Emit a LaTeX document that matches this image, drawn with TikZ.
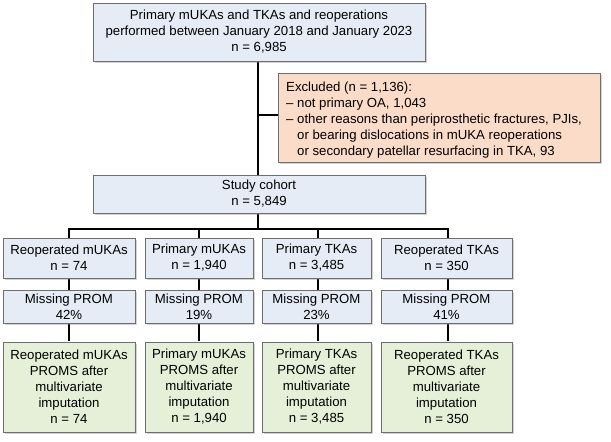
\documentclass[tikz,border=0pt]{standalone}
\usepackage{fontspec}
\setmainfont{Liberation Sans}
\usetikzlibrary{shadows}
\definecolor{bx}{HTML}{E6ECF6}
\definecolor{gx}{HTML}{E6F0D8}
\definecolor{px}{HTML}{FBDCC8}
\definecolor{bd}{HTML}{6E6E6E}
\tikzset{x=1pt,y=-1pt,
 bxs/.style={draw=bd,line width=0.8pt,drop shadow={shadow xshift=1.5pt,shadow yshift=-1.5pt,opacity=0.35}},
 lnk/.style={line width=1.8pt,black},
 txt/.style={align=center,font=\fontsize{13.2}{16}\selectfont,inner sep=0pt}}
\begin{document}
\begin{tikzpicture}
\useasboundingbox (0,0) rectangle (611,442);
\newcommand\bxx[6]{\draw[bxs,fill=#6] (#1,#2) rectangle (#3,#4); \coordinate (#5) at ({(#1+#3)/2},{(#2+#4)/2});}
\coordinate (j1) at (258,115);
\coordinate (b0) at (258,229);
\coordinate (b1) at (69,229); \coordinate (b4) at (448,229);
\draw[lnk] (258,61) -- (b0);
\draw[lnk] (j1) -- (278,115);
\draw[lnk,line cap=rect] (b1) -- (b4);
\foreach \x in {69,199,318,448}{\draw[lnk] (\x,229) -- (\x,341);}
\bxx{93}{3}{425}{61}{top}{bx}
\node[txt] at (top) {Primary mUKAs and TKAs and reoperations\\performed between January 2018 and January 2023\\n = 6,985};
\bxx{278}{73}{600}{162}{exc}{px}
\node[txt,align=left,anchor=north west] at (286,82) {Excluded (n = 1,136):\\– not primary OA, 1,043\\– other reasons than periprosthetic fractures, PJIs,\\\phantom{– }or bearing dislocations in mUKA reoperations\\\phantom{– }or secondary patellar resurfacing in TKA, 93};
\bxx{93}{175}{425}{213}{coh}{bx}
\node[txt] at (coh) {Study cohort\\n = 5,849};
\foreach \l/\r/\t/\n/\m/\i in {3/135/{Reoperated mUKAs}/{74}/42/a,145/253/{Primary mUKAs}/{1,940}/19/b,262/371/{Primary TKAs}/{3,485}/23/c,381/512/{Reoperated TKAs}/{350}/41/d}{
 \bxx{\l}{238}{\r}{278}{r1\i}{bx}
 \node[txt] at (r1\i) {\t\\n = \n};
 \bxx{\l}{290}{\r}{323}{r2\i}{bx}
 \node[txt] at (r2\i) {Missing PROM\\\m\%};
 \bxx{\l}{342}{\r}{432}{r3\i}{gx}
 \node[txt] at (r3\i) {\t\\PROMS after\\multivariate\\imputation\\n = \n};
}
\end{tikzpicture}
\end{document}
